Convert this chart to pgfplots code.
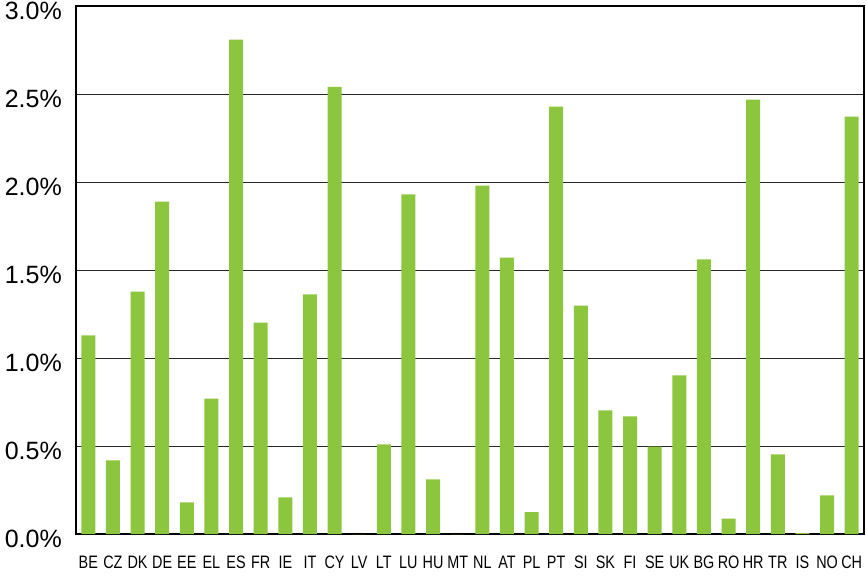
\documentclass[border=0pt]{standalone}
\usepackage{fontspec}
\setmainfont{Liberation Sans}
\newfontfamily\narrowfont[FakeStretch=0.8]{Liberation Sans}
\usepackage{pgfplots}
\pgfplotsset{compat=1.18}
\definecolor{barGreen}{RGB}{140,198,63}
\begin{document}
\begin{tikzpicture}
\path[use as bounding box] (0,0) rectangle (866pt,579pt);
\begin{axis}[
  at={(76pt,45pt)}, anchor=south west,
  scale only axis, width=788pt, height=528pt,
  xmin=-0.5, xmax=31.5, ymin=0, ymax=3,
  xtick={0,...,31},
  xticklabels={BE,CZ,DK,DE,EE,EL,ES,FR,IE,IT,CY,LV,LT,LU,HU,MT,NL,AT,PL,PT,SI,SK,FI,SE,UK,BG,RO,HR,TR,IS,NO,CH},
  ytick={0,0.5,1,1.5,2,2.5,3},
  yticklabel={\pgfmathprintnumber[fixed,fixed zerofill,precision=1,assume math mode=true]{\tick}\%},
  major tick length=0pt,
  ymajorgrids,
  grid style={line width=0.8pt, draw=black!85},
  axis line style={line width=1.4pt, draw=black},
  xticklabel style={font=\narrowfont\fontsize{18}{20}\selectfont, inner sep=0pt, yshift=-22pt, anchor=north},
  yticklabel style={font=\fontsize{25}{28}\selectfont, inner sep=0pt, xshift=-14pt, yshift=-5pt, anchor=east},
  /pgf/number format/assume math mode=true,
  clip=false,
]
\addplot[ybar, bar width=14pt, fill=barGreen, draw=none] coordinates {
(0,1.128) (1,0.419) (2,1.377) (3,1.889) (4,0.180) (5,0.769) (6,2.809) (7,1.201)
(8,0.208) (9,1.361) (10,2.541) (11,0) (12,0.509) (13,1.929) (14,0.310) (15,0)
(16,1.979) (17,1.570) (18,0.124) (19,2.428) (20,1.298) (21,0.702) (22,0.669) (23,0.497)
(24,0.901) (25,1.560) (26,0.088) (27,2.468) (28,0.453) (29,0.005) (30,0.220) (31,2.371)
};
\end{axis}
\end{tikzpicture}
\end{document}
